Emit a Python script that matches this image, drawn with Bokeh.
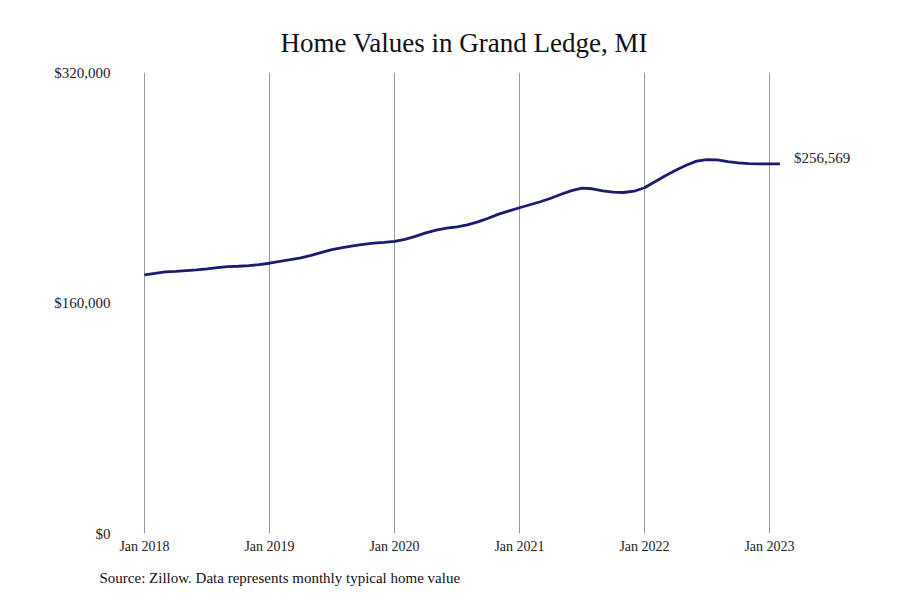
from bokeh.plotting import figure
from bokeh.models import Range1d, FixedTicker, NumeralTickFormatter, Label, Title
from bokeh.embed import file_html
from bokeh.resources import INLINE

# ---- data ----
title_text = "Home Values in Grand Ledge, MI"
source_text = "Source: Zillow. Data represents monthly typical home value"
tick_months = [0, 12, 24, 36, 48, 60]
tick_labels = ["Jan 2018", "Jan 2019", "Jan 2020", "Jan 2021", "Jan 2022", "Jan 2023"]
y_ticks = [0, 160000, 320000]
end_label = "$256,569"
# monthly typical home value, Jan 2018 .. Feb 2023
values = [
    179478, 180500, 181600, 182000, 182500, 183000, 183650, 184500, 185200, 185500, 185900, 186600,
    187600, 188900, 190050, 191300, 193050, 195100, 197100, 198500, 199650, 200700, 201500, 202100,
    202800, 204200, 206250, 208700, 210600, 212000, 212900, 214250, 216350, 218800, 221700, 224000,
    226100, 228200, 230300, 232700, 235500, 238050, 239800, 239300, 237900, 236900, 236700, 237600,
    240000, 244200, 248350, 252200, 255650, 258450, 259500, 259300, 258100, 257250, 256800, 256600,
    256550, 256569,
]
months = list(range(len(values)))

FONT = "Liberation Serif"
px_per_month = 125 / 12.0
frame_left_px, frame_right_px = 115, 860
frame_top_px, frame_bottom_px = 72, 533
x_start = -(144 - frame_left_px) / px_per_month
x_end = (frame_right_px - 144) / px_per_month

W, H = 884, 596
p = figure(width=W, height=H, output_backend="svg", toolbar_location=None,
           x_range=Range1d(x_start, x_end), y_range=Range1d(0, 320000),
           min_border_left=frame_left_px, min_border_right=W - frame_right_px,
           min_border_top=frame_top_px, min_border_bottom=H - frame_bottom_px)
p.outline_line_color = None
p.background_fill_color = "white"
p.border_fill_color = "white"

p.title.text = title_text
p.title.text_font = FONT
p.title.text_font_size = "27px"
p.title.text_font_style = "normal"
p.title.text_color = "#111111"
p.title.align = "left"
p.title.offset = 280 - frame_left_px
p.title.standoff = 30

p.line(months, values, line_color="#1b1b6f", line_width=2.8)

# axes
p.xaxis.ticker = FixedTicker(ticks=tick_months)
p.xaxis.major_label_overrides = {m: l for m, l in zip(tick_months, tick_labels)}
p.xaxis.axis_line_color = None
p.xaxis.major_tick_line_color = None
p.xaxis.minor_tick_line_color = None
p.xaxis.major_tick_out = 0
p.xaxis.major_tick_in = 0
p.xaxis.major_label_text_font = FONT
p.xaxis.major_label_text_font_size = "14px"
p.xaxis.major_label_text_color = "#222222"
p.xaxis.major_label_standoff = 5

p.yaxis.ticker = FixedTicker(ticks=y_ticks)
p.yaxis.formatter = NumeralTickFormatter(format="$0,0")
p.yaxis.axis_line_color = None
p.yaxis.major_tick_line_color = None
p.yaxis.minor_tick_line_color = None
p.yaxis.major_tick_out = 0
p.yaxis.major_tick_in = 0
p.yaxis.major_label_text_font = FONT
p.yaxis.major_label_text_font_size = "15px"
p.yaxis.major_label_text_color = "#222222"
p.yaxis.major_label_standoff = 5

p.xgrid.grid_line_color = "#999999"
p.xgrid.grid_line_width = 1
p.ygrid.grid_line_color = None

# end value label
p.add_layout(Label(x=months[-1], y=values[-1], text=end_label, x_offset=14, y_offset=6,
                   text_font=FONT, text_font_size="15px", text_color="#222222",
                   text_baseline="middle", text_align="left"))

src = Title(text=source_text, text_font=FONT, text_font_size="15px", text_font_style="normal",
            text_color="#111111", align="left", offset=-16, standoff=22)
p.add_layout(src, "below")

open("out.html", "w").write(file_html(p, INLINE))
